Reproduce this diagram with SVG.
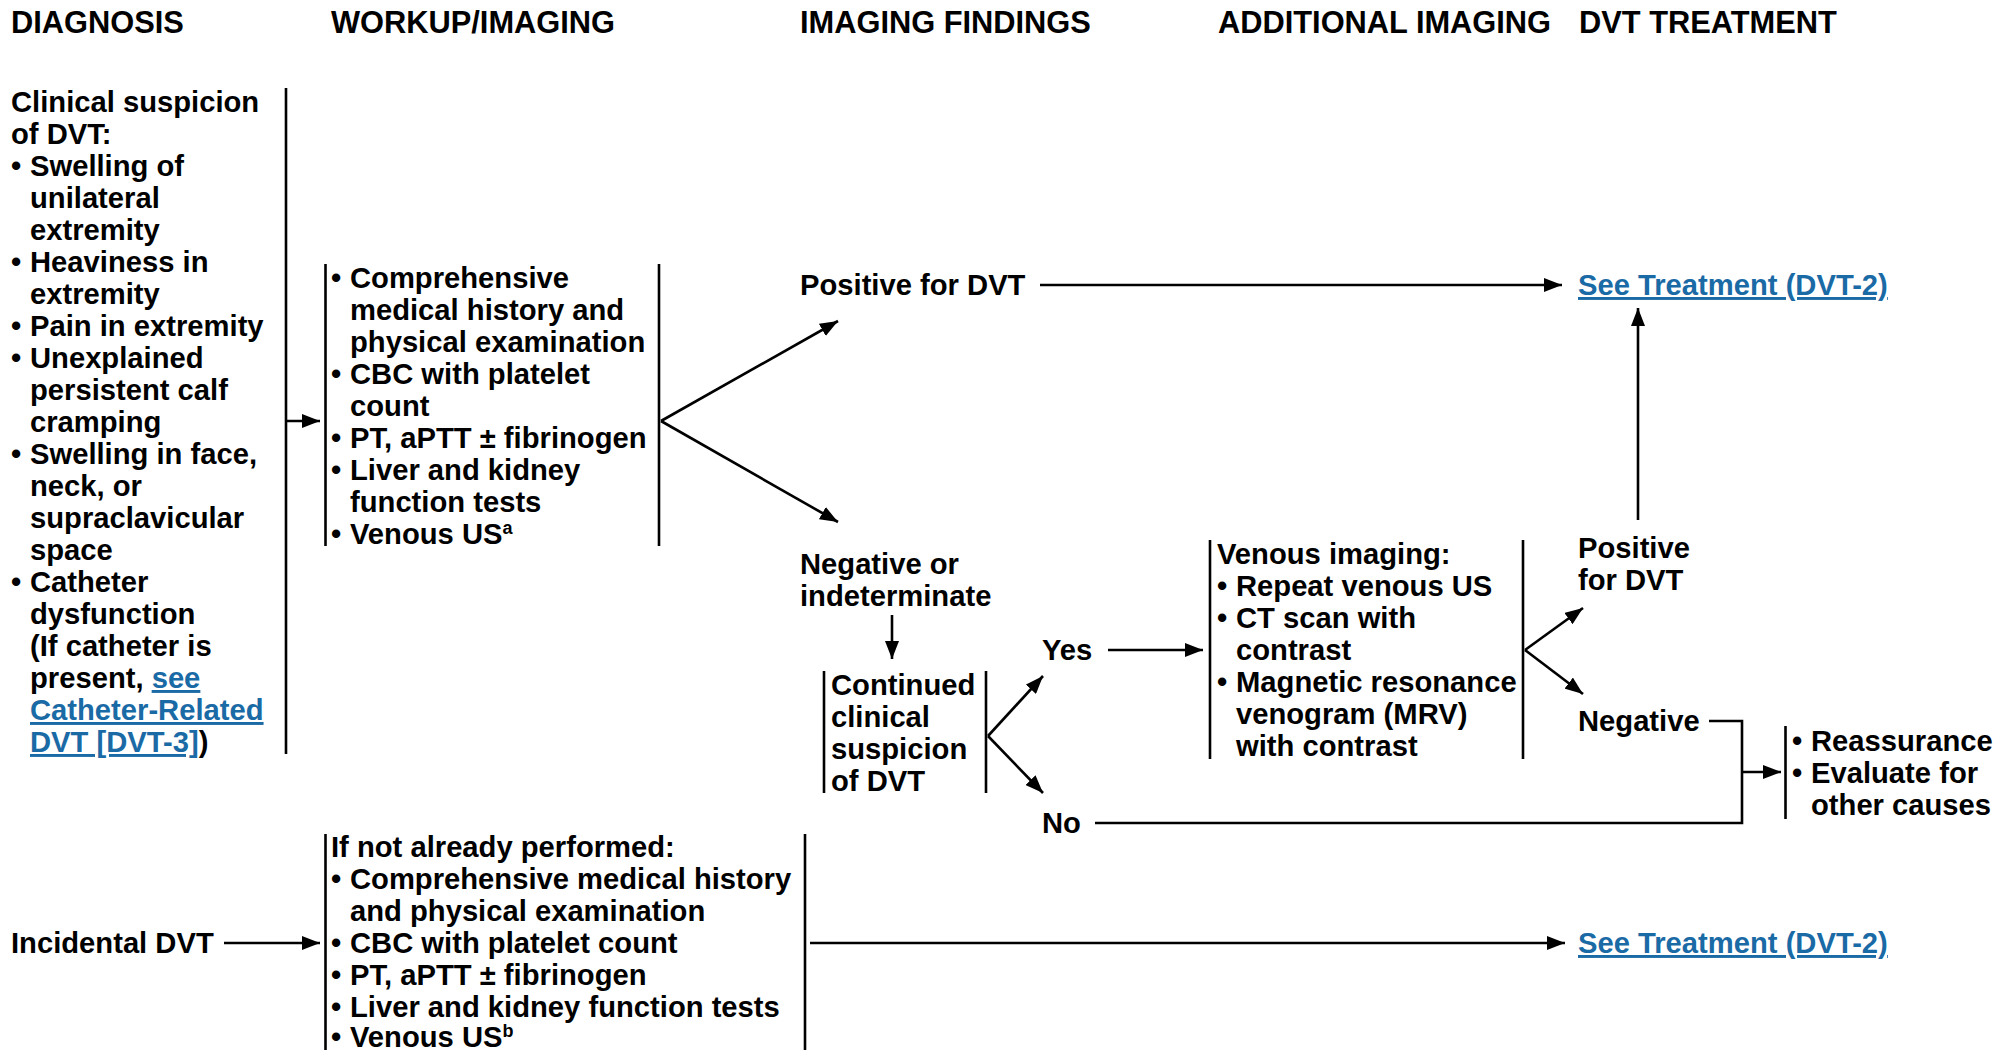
<svg xmlns="http://www.w3.org/2000/svg" width="1997" height="1050" viewBox="0 0 1997 1050">
<style>
text{font-family:"Liberation Sans",Arial,Helvetica,sans-serif;font-weight:bold;font-size:29.2px;fill:#000}
.h{font-size:30.8px}
.lk{fill:#1a6aa6;text-decoration:underline}
.sup{font-size:18px}
.ln{stroke:#000;stroke-width:2.6;fill:none}
.ar{stroke:#000;stroke-width:2.6;fill:none;marker-end:url(#ah)}
</style>
<defs>
<marker id="ah" markerUnits="userSpaceOnUse" markerWidth="20" markerHeight="14" refX="18" refY="7" orient="auto">
<path d="M0,0 L18,7 L0,14 Z" fill="#000"/>
</marker>
</defs>
<rect width="1997" height="1050" fill="#fff"/>
<g id="headers">
<text class="h" x="11" y="33">DIAGNOSIS</text>
<text class="h" x="331" y="33">WORKUP/IMAGING</text>
<text class="h" x="800" y="33">IMAGING FINDINGS</text>
<text class="h" x="1218" y="33">ADDITIONAL IMAGING</text>
<text class="h" x="1579" y="33">DVT TREATMENT</text>
</g>
<g id="clinical-suspicion">
<text x="11" y="112">Clinical suspicion</text>
<text x="11" y="144">of DVT:</text>
<text x="11" y="176">•</text><text x="30" y="176">Swelling of</text>
<text x="30" y="208">unilateral</text>
<text x="30" y="240">extremity</text>
<text x="11" y="272">•</text><text x="30" y="272">Heaviness in</text>
<text x="30" y="304">extremity</text>
<text x="11" y="336">•</text><text x="30" y="336">Pain in extremity</text>
<text x="11" y="368">•</text><text x="30" y="368">Unexplained</text>
<text x="30" y="400">persistent calf</text>
<text x="30" y="432">cramping</text>
<text x="11" y="464">•</text><text x="30" y="464">Swelling in face,</text>
<text x="30" y="496">neck, or</text>
<text x="30" y="528">supraclavicular</text>
<text x="30" y="560">space</text>
<text x="11" y="592">•</text><text x="30" y="592">Catheter</text>
<text x="30" y="624">dysfunction</text>
<text x="30" y="656">(If catheter is</text>
<text x="30" y="688">present, <tspan class="lk">see</tspan></text>
<text x="30" y="720" class="lk">Catheter-Related</text>
<text x="30" y="752"><tspan class="lk">DVT [DVT-3]</tspan>)</text>
<line class="ln" x1="286" y1="88" x2="286" y2="754"/>
</g>
<g id="workup">
<line class="ln" x1="325.5" y1="264" x2="325.5" y2="546"/>
<line class="ln" x1="659" y1="264" x2="659" y2="546"/>
<text x="331" y="288">•</text><text x="350" y="288">Comprehensive</text>
<text x="350" y="320">medical history and</text>
<text x="350" y="352">physical examination</text>
<text x="331" y="384">•</text><text x="350" y="384">CBC with platelet</text>
<text x="350" y="416">count</text>
<text x="331" y="448">•</text><text x="350" y="448">PT, aPTT ± fibrinogen</text>
<text x="331" y="480">•</text><text x="350" y="480">Liver and kidney</text>
<text x="350" y="512">function tests</text>
<text x="331" y="544">•</text><text x="350" y="544">Venous US<tspan class="sup" dy="-10">a</tspan></text>
</g>
<g id="positive-dvt">
<text x="800" y="295">Positive for DVT</text>
</g>
<g id="see-treatment-1">
<text x="1578" y="295" class="lk">See Treatment (DVT-2)</text>
</g>
<g id="negative-indeterminate">
<text x="800" y="574">Negative or</text>
<text x="800" y="606">indeterminate</text>
</g>
<g id="continued-suspicion">
<line class="ln" x1="824" y1="671" x2="824" y2="793"/>
<line class="ln" x1="986" y1="671" x2="986" y2="793"/>
<text x="831" y="695">Continued</text>
<text x="831" y="727">clinical</text>
<text x="831" y="759">suspicion</text>
<text x="831" y="791">of DVT</text>
</g>
<g id="yes"><text x="1042" y="660">Yes</text></g>
<g id="no"><text x="1042" y="833">No</text></g>
<g id="venous-imaging">
<line class="ln" x1="1210" y1="540" x2="1210" y2="759"/>
<line class="ln" x1="1523" y1="540" x2="1523" y2="759"/>
<text x="1217" y="564">Venous imaging:</text>
<text x="1217" y="596">•</text><text x="1236" y="596">Repeat venous US</text>
<text x="1217" y="628">•</text><text x="1236" y="628">CT scan with</text>
<text x="1236" y="660">contrast</text>
<text x="1217" y="692">•</text><text x="1236" y="692">Magnetic resonance</text>
<text x="1236" y="724">venogram (MRV)</text>
<text x="1236" y="756">with contrast</text>
</g>
<g id="positive-dvt-2">
<text x="1578" y="558">Positive</text>
<text x="1578" y="590">for DVT</text>
</g>
<g id="negative">
<text x="1578" y="731">Negative</text>
</g>
<g id="reassurance">
<line class="ln" x1="1785.5" y1="726" x2="1785.5" y2="819"/>
<text x="1792" y="751">•</text><text x="1811" y="751">Reassurance</text>
<text x="1792" y="783">•</text><text x="1811" y="783">Evaluate for</text>
<text x="1811" y="815">other causes</text>
</g>
<g id="incidental-dvt">
<text x="11" y="953">Incidental DVT</text>
</g>
<g id="incidental-workup">
<line class="ln" x1="325.5" y1="834" x2="325.5" y2="1050"/>
<line class="ln" x1="805" y1="834" x2="805" y2="1050"/>
<text x="331" y="857">If not already performed:</text>
<text x="331" y="889">•</text><text x="350" y="889">Comprehensive medical history</text>
<text x="350" y="921">and physical examination</text>
<text x="331" y="953">•</text><text x="350" y="953">CBC with platelet count</text>
<text x="331" y="985">•</text><text x="350" y="985">PT, aPTT ± fibrinogen</text>
<text x="331" y="1017">•</text><text x="350" y="1017">Liver and kidney function tests</text>
<text x="331" y="1047">•</text><text x="350" y="1047">Venous US<tspan class="sup" dy="-10">b</tspan></text>
</g>
<g id="see-treatment-2">
<text x="1578" y="953" class="lk">See Treatment (DVT-2)</text>
</g>
<g id="connectors">
<line class="ar" x1="287" y1="421" x2="320" y2="421"/>
<path class="ar" d="M661,421 L838,321"/>
<path class="ar" d="M661,421 L838,522"/>
<line class="ar" x1="1040" y1="285" x2="1562" y2="285"/>
<line class="ar" x1="892" y1="615" x2="892" y2="659"/>
<path class="ar" d="M988,736 L1043,676"/>
<path class="ar" d="M988,736 L1043,793"/>
<line class="ar" x1="1108" y1="650" x2="1203" y2="650"/>
<path class="ar" d="M1525,650 L1583,608"/>
<path class="ar" d="M1525,650 L1583,694"/>
<line class="ar" x1="1638" y1="520" x2="1638" y2="308"/>
<path class="ln" d="M1709,721 L1742,721 L1742,823 L1095,823"/>
<line class="ar" x1="1742" y1="772" x2="1781" y2="772"/>
<line class="ar" x1="224" y1="943" x2="320" y2="943"/>
<line class="ar" x1="810" y1="943" x2="1565" y2="943"/>
</g>
</svg>
